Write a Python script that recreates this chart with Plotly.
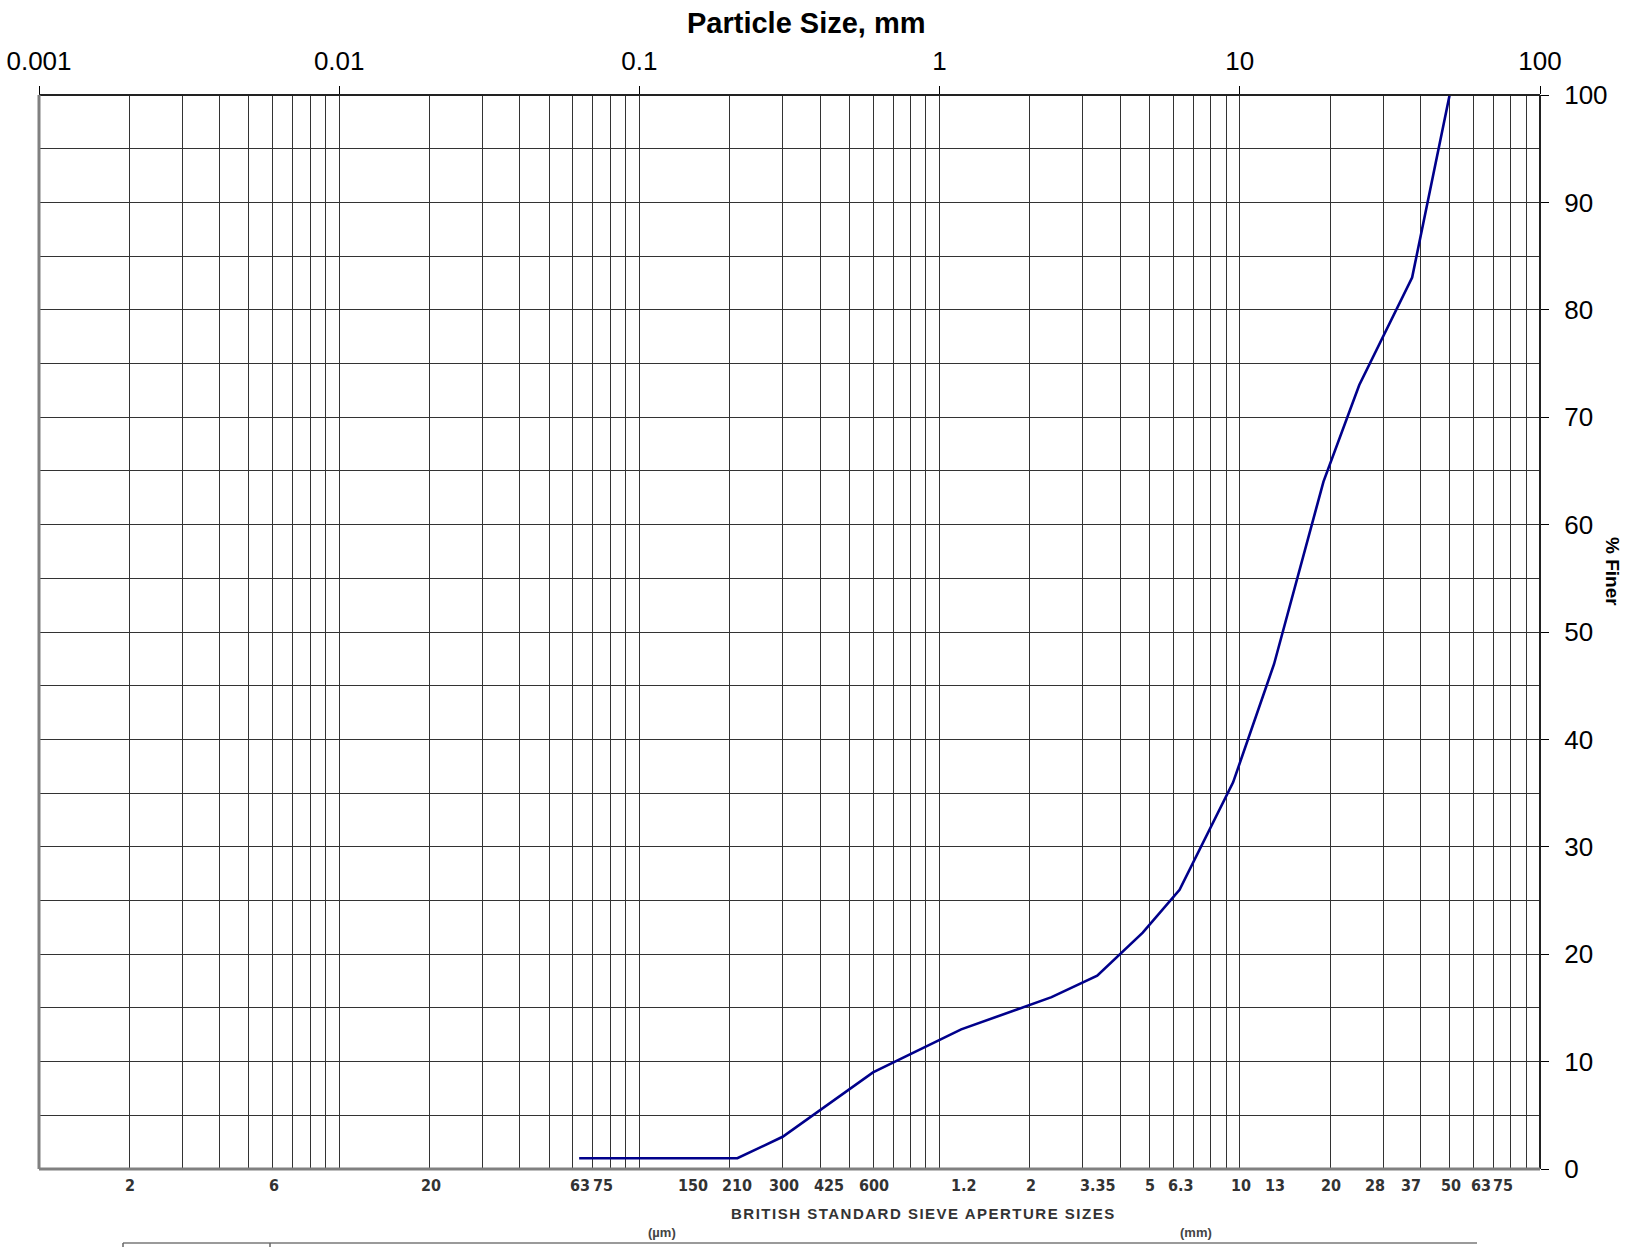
import plotly.graph_objects as go
import math

# ---- data ----
particle_size_mm = [0.063, 0.212, 0.3, 0.6, 1.18, 2.36, 3.35, 4.75, 6.3, 9.5, 13.0, 19.0, 25.0, 37.5, 50.0]
percent_finer = [1, 1, 3, 9, 13, 16, 18, 22, 26, 36, 47, 64, 73, 83, 100]

top_tick_vals = [0.001, 0.01, 0.1, 1, 10, 100]
top_tick_text = ["0.001", "0.01", "0.1", "1", "10", "100"]
y_tick_vals = [0, 10, 20, 30, 40, 50, 60, 70, 80, 90, 100]
y_minor_vals = [5, 15, 25, 35, 45, 55, 65, 75, 85, 95]
x_minor_mult = [2, 3, 4, 5, 6, 7, 8, 9]

sieve_sizes_mm = [0.002, 0.006, 0.02, 0.063, 0.075, 0.15, 0.21, 0.3, 0.425, 0.6,
                  1.2, 2, 3.35, 5, 6.3, 10, 13, 20, 28, 37, 50, 63, 75]
sieve_labels = ["2", "6", "20", "63", "75", "150", "210", "300", "425", "600",
                "1.2", "2", "3.35", "5", "6.3", "10", "13", "20", "28", "37", "50", "63", "75"]

W, H = 1641, 1247
L, R, T, B = 39, 101, 95, 78
PW, PH = W - L - R, H - T - B

def px_x(p):
    return (p - L) / PW

def px_y(p):
    return (H - B - p) / PH

x_minor_vals = [m * d for d in [0.001, 0.01, 0.1, 1, 10] for m in x_minor_mult]

GRID = "#333333"

fig = go.Figure()
fig.add_trace(go.Scatter(
    x=particle_size_mm, y=percent_finer, mode="lines",
    line=dict(color="#00008B", width=2.6), showlegend=False, hoverinfo="x+y",
))

fig.update_layout(
    width=W, height=H,
    margin=dict(l=L, r=R, t=T, b=B, pad=0),
    paper_bgcolor="white", plot_bgcolor="white",
    font=dict(family="Liberation Sans, Arial, sans-serif", color="black"),
    xaxis=dict(
        type="log", range=[-3, 2], side="top", automargin=False,
        tickmode="array", tickvals=top_tick_vals, ticktext=top_tick_text,
        tickfont=dict(size=26, color="black"),
        ticks="outside", ticklen=8, tickcolor="black", tickwidth=1,
        ticklabelstandoff=6,
        showgrid=True, gridcolor=GRID, gridwidth=1,
        minor=dict(tickmode="array", tickvals=x_minor_vals, showgrid=True,
                   gridcolor=GRID, gridwidth=1, ticks=""),
        showline=False, zeroline=False,
    ),
    yaxis=dict(
        range=[0, 100], side="right", automargin=False,
        tickmode="array", tickvals=y_tick_vals,
        tickfont=dict(size=26, color="black"),
        ticks="outside", ticklen=8, tickcolor="black", tickwidth=1,
        ticklabelstandoff=10,
        showgrid=True, gridcolor=GRID, gridwidth=1,
        minor=dict(tickmode="array", tickvals=y_minor_vals, showgrid=True,
                   gridcolor=GRID, gridwidth=1, ticks=""),
        showline=False, zeroline=False,
    ),
)

# borders
fig.add_shape(type="line", xref="paper", yref="paper", x0=0, x1=1, y0=1, y1=1,
              line=dict(color="#222222", width=2))
fig.add_shape(type="line", xref="paper", yref="paper", x0=1, x1=1, y0=0, y1=1,
              line=dict(color="#222222", width=2))
fig.add_shape(type="line", xref="paper", yref="paper", x0=0, x1=0, y0=0, y1=1,
              line=dict(color="#808080", width=3))
fig.add_shape(type="line", xref="paper", yref="paper", x0=0, x1=1, y0=0, y1=0,
              line=dict(color="#808080", width=3))

# bottom table edge (cropped in original)
fig.add_shape(type="line", xref="paper", yref="paper", x0=px_x(123), x1=px_x(1477),
              y0=px_y(1243), y1=px_y(1243), line=dict(color="#9a9a9a", width=2))
for tx in [123, 270]:
    fig.add_shape(type="line", xref="paper", yref="paper", x0=px_x(tx), x1=px_x(tx),
                  y0=px_y(1243), y1=px_y(1250), line=dict(color="#666666", width=1.5))

annotations = []
annotations.append(dict(text="<b>Particle Size, mm</b>", xref="paper", yref="paper",
                        x=px_x(806), y=px_y(23), showarrow=False,
                        font=dict(size=29, color="black"), xanchor="center", yanchor="middle"))
annotations.append(dict(text="<b>% Finer</b>", xref="paper", yref="paper",
                        x=px_x(1613), y=px_y(571), showarrow=False, textangle=90,
                        font=dict(size=19, color="black"), xanchor="center", yanchor="middle"))
for v, t in zip(sieve_sizes_mm, sieve_labels):
    annotations.append(dict(text="<b>" + t + "</b>", xref="x", yref="paper",
                            x=math.log10(v), y=px_y(1185), showarrow=False, xshift=1,
                            font=dict(size=16, color="#333333",
                                      family="DejaVu Sans Condensed, sans-serif"),
                            xanchor="center", yanchor="middle"))
annotations.append(dict(text="<span style=\"letter-spacing:1.5px\"><b>BRITISH STANDARD SIEVE APERTURE SIZES</b></span>",
                        xref="paper", yref="paper",
                        x=px_x(923), y=px_y(1213), showarrow=False,
                        font=dict(size=15, color="#333333",
                                  family="Liberation Sans, Arial, sans-serif"),
                        xanchor="center", yanchor="middle"))
annotations.append(dict(text="<b>(µm)</b>", xref="paper", yref="paper",
                        x=px_x(662), y=px_y(1232), showarrow=False,
                        font=dict(size=13, color="#444444"), xanchor="center", yanchor="middle"))
annotations.append(dict(text="<b>(mm)</b>", xref="paper", yref="paper",
                        x=px_x(1196), y=px_y(1232), showarrow=False,
                        font=dict(size=13, color="#444444"), xanchor="center", yanchor="middle"))
fig.update_layout(annotations=annotations)

fig.write_html("out.html")
